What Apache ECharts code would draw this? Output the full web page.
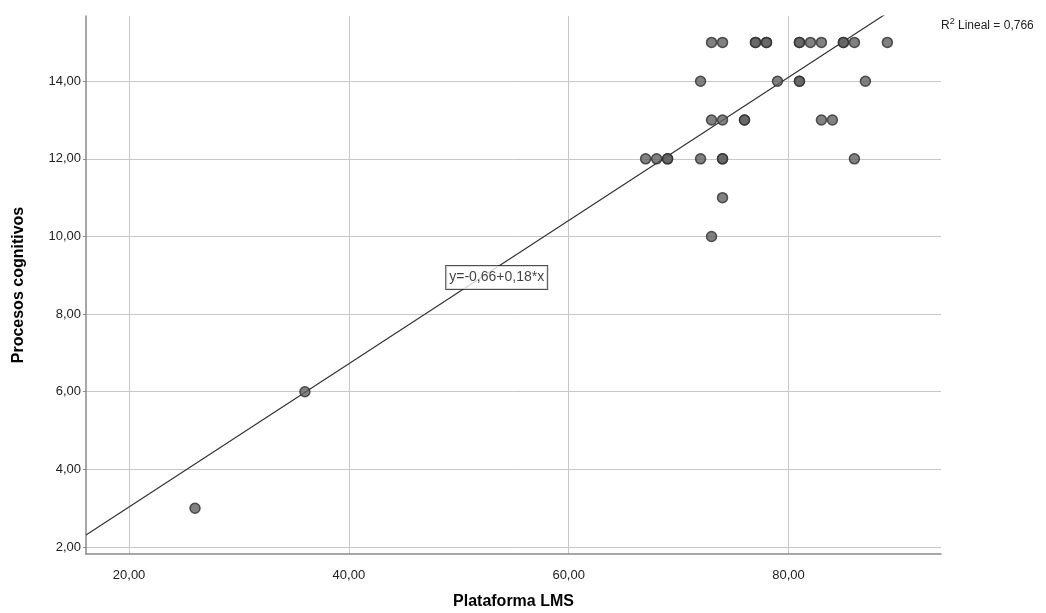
<!DOCTYPE html>
<html>
<head>
<meta charset="utf-8">
<style>
  html, body { margin: 0; padding: 0; background: #fff; overflow: hidden; }
  #chart { width: 1046px; height: 613px; }
</style>
<script src="https://cdn.jsdelivr.net/npm/echarts@6/dist/echarts.min.js"></script>
</head>
<body>
<div id="chart"></div>
<script>
// Observed scores: LMS platform usage vs. cognitive processes
const lmsScores = [26, 36, 67, 68, 69, 69, 72, 72, 73, 73, 73, 74, 74, 74, 74, 74,
                   76, 76, 77, 77, 78, 78, 79, 81, 81, 81, 81, 82, 83, 83, 84, 85, 85, 86, 86, 87, 89];
const cognitiveScores = [3, 6, 12, 12, 12, 12, 14, 12, 15, 13, 10, 15, 13, 12, 11, 12,
                         13, 13, 15, 15, 15, 15, 14, 15, 15, 14, 14, 15, 15, 13, 13, 15, 15, 15, 12, 14, 15];

// Fitted linear model
const fitIntercept = -0.66;
const fitSlope = 0.1845;
const rSquared = 0.766;

// Axis ranges and tick steps
const xRange = [16.08, 93.88];
const yRange = [1.82, 15.68];
const xStep = 20;
const yStep = 2;

const fmt = (v, d) => v.toFixed(d).replace('.', ',');
const fitAt = x => fitIntercept + fitSlope * x;

const points = lmsScores.map((x, i) => [x, cognitiveScores[i]]);
const fitLine = [
  [xRange[0], fitAt(xRange[0])],
  [xRange[1], fitAt(xRange[1])]
];
const labelX = 53.45;
const equationAnchor = [[labelX, fitAt(labelX)]];

const font = '"Liberation Sans", Arial, sans-serif';

const chart = echarts.init(document.getElementById('chart'), null, { renderer: 'canvas' });
chart.setOption({
  animation: false,
  backgroundColor: '#ffffff',
  grid: { left: 86, top: 16, width: 855, height: 538, containLabel: false, outerBoundsMode: 'none' },
  xAxis: {
    type: 'value',
    min: xRange[0], max: xRange[1],
    minInterval: xStep, maxInterval: xStep, splitNumber: 4,
    name: 'Plataforma LMS',
    nameLocation: 'middle',
    nameGap: 40,
    nameTextStyle: { fontFamily: font, fontSize: 16, fontWeight: 'bold', color: '#000' },
    axisLine: { show: true, lineStyle: { color: '#8a8a8a', width: 1.5 } },
    axisTick: { show: false },
    axisLabel: {
      showMinLabel: false, showMaxLabel: false,
      margin: 15, fontFamily: font, fontSize: 13, color: '#222',
      formatter: v => fmt(v, 2)
    },
    splitLine: { show: true, showMinLine: false, showMaxLine: false, lineStyle: { color: '#c8c8c8', width: 1 } }
  },
  yAxis: {
    type: 'value',
    min: yRange[0], max: yRange[1],
    minInterval: yStep, maxInterval: yStep, splitNumber: 7,
    name: 'Procesos cognitivos',
    nameLocation: 'middle',
    nameGap: 59,
    nameTextStyle: { fontFamily: font, fontSize: 16, fontWeight: 'bold', color: '#000' },
    axisLine: { show: true, lineStyle: { color: '#8a8a8a', width: 1.5 } },
    axisTick: { show: true, length: 3, lineStyle: { color: '#8a8a8a' } },
    axisLabel: {
      showMinLabel: false, showMaxLabel: false,
      margin: 5, fontFamily: font, fontSize: 13, color: '#222',
      formatter: v => fmt(v, 2)
    },
    splitLine: { show: true, showMinLine: false, showMaxLine: false, lineStyle: { color: '#c8c8c8', width: 1 } }
  },
  series: [
    {
      type: 'line',
      data: fitLine,
      clip: true,
      symbol: 'none',
      silent: true,
      lineStyle: { color: '#333333', width: 1.2 },
      z: 2
    },
    {
      type: 'scatter',
      data: equationAnchor,
      symbolSize: 0,
      silent: true,
      label: {
        show: true,
        position: 'inside',
        offset: [0, 10],
        formatter: () => 'y=' + fmt(fitIntercept, 2) + '+' + fmt(fitSlope, 2) + '*x',
        fontFamily: font, fontSize: 14, color: '#111',
        backgroundColor: '#ffffff',
        borderColor: '#222', borderWidth: 1,
        padding: [5, 3, 4, 3]
      },
      z: 4
    },
    {
      type: 'scatter',
      data: points,
      symbol: 'circle',
      symbolSize: 10,
      itemStyle: { color: '#626262', borderColor: '#2e2e2e', borderWidth: 1.5 },
      z: 3
    }
  ],
  graphic: [
    {
      type: 'text',
      left: 941, top: 17,
      style: {
        text: '{b|R}{s|2}{b| Lineal = ' + fmt(rSquared, 3) + '}',
        rich: {
          b: { fontFamily: font, fontSize: 12, fill: '#222', verticalAlign: 'bottom', lineHeight: 15 },
          s: { fontFamily: font, fontSize: 9, fill: '#222', verticalAlign: 'top', lineHeight: 15 }
        }
      }
    }
  ]
});
</script>
</body>
</html>
